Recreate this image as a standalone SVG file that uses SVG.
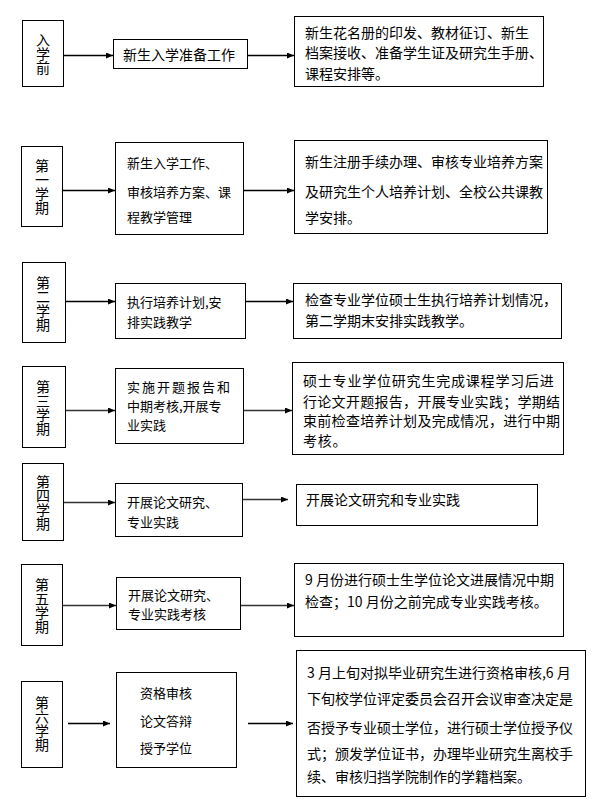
<svg xmlns="http://www.w3.org/2000/svg" width="599" height="809" viewBox="0 0 599 809">
<style>
text{font-family:"Noto Sans CJK SC","Liberation Sans",sans-serif;font-size:14px;fill:#000}
.box{fill:#fff;stroke:#000;stroke-width:1}
.v{font-size:14px;text-anchor:middle;writing-mode:vertical-rl}
.s{font-size:13px}
.c{stroke:#000;stroke-width:1.3;fill:none;marker-end:url(#ah)}
.g{stroke:#333}
</style>
<defs>
<marker id="ah" markerUnits="userSpaceOnUse" markerWidth="8" markerHeight="8" refX="7" refY="3" orient="auto">
<path d="M0,0 L7,3 L0,6 z" fill="#000"/>
</marker>
</defs>
<rect width="599" height="809" fill="#fff"/>
<g id="connectors">
<line class="c" x1="64" y1="55.5" x2="113" y2="55.5"/>
<line class="c" x1="248" y1="55.5" x2="294" y2="55.5"/>
<line class="c" x1="63" y1="190.5" x2="115" y2="190.5"/>
<line class="c" x1="243" y1="190.5" x2="294" y2="190.5"/>
<line class="c" x1="65" y1="301.5" x2="115" y2="301.5"/>
<line class="c" x1="245" y1="301.5" x2="293" y2="301.5"/>
<line class="c g" x1="65" y1="410.5" x2="115" y2="410.5"/>
<line class="c g" x1="243" y1="410.5" x2="292" y2="410.5"/>
<line class="c g" x1="63" y1="502.5" x2="115" y2="502.5"/>
<line class="c g" x1="242" y1="499.5" x2="288" y2="499.5"/>
<line class="c g" x1="62" y1="605.5" x2="116" y2="605.5"/>
<line class="c g" x1="240" y1="605.5" x2="294" y2="605.5"/>
<line class="c" x1="68" y1="723.5" x2="110" y2="723.5"/>
<line class="c" x1="248" y1="723.5" x2="293" y2="723.5"/>
</g>
<g id="r1-label"><rect class="box" x="22.5" y="20.5" width="41" height="66"/>
<text class="v" x="43" y="54">入学前</text></g>
<g id="r1-task"><rect class="box" x="113.5" y="39.5" width="134" height="29"/>
<text x="123" y="60">新生入学准备工作</text></g>
<g id="r1-detail"><rect class="box" x="294.5" y="16.5" width="249" height="70"/>
<text x="305" y="38">新生花名册的印发、教材征订、新生</text>
<text x="305" y="58">档案接收、准备学生证及研究生手册、</text>
<text x="305" y="79">课程安排等。</text></g>

<g id="r2-label"><rect class="box" x="21.5" y="146.5" width="41" height="80"/>
<text class="v" x="42" y="187">第一学期</text></g>
<g id="r2-task"><rect class="box" x="115.5" y="142.5" width="128" height="92"/>
<text class="s" x="127" y="168">新生入学工作、</text>
<text class="s" x="127" y="197">审核培养方案、课</text>
<text class="s" x="127" y="222">程教学管理</text></g>
<g id="r2-detail"><rect class="box" x="294.5" y="140.5" width="253" height="93"/>
<text x="305" y="167">新生注册手续办理、审核专业培养方案</text>
<text x="305" y="197">及研究生个人培养计划、全校公共课教</text>
<text x="305" y="223">学安排。</text></g>

<g id="r3-label"><rect class="box" x="22.5" y="262.5" width="43" height="80"/>
<text class="v" x="43" y="304">第二学期</text></g>
<g id="r3-task"><rect class="box" x="115.5" y="283.5" width="130" height="55"/>
<text class="s" x="127" y="307">执行培养计划,安</text>
<text class="s" x="127" y="327">排实践教学</text></g>
<g id="r3-detail"><rect class="box" x="293.5" y="283.5" width="268" height="55"/>
<text x="305" y="305">检查专业学位硕士生执行培养计划情况，</text>
<text x="305" y="326">第二学期末安排实践教学。</text></g>

<g id="r4-label"><rect class="box" x="22.5" y="366.5" width="43" height="81"/>
<text class="v" x="43" y="408">第三学期</text></g>
<g id="r4-task"><rect class="box" x="115.5" y="368.5" width="128" height="75"/>
<text class="s" x="127" y="392" letter-spacing="2">实施开题报告和</text>
<text class="s" x="127" y="411">中期考核,开展专</text>
<text class="s" x="127" y="430">业实践</text></g>
<g id="r4-detail"><rect class="box" x="292.5" y="362.5" width="271" height="92"/>
<text x="303" y="386" letter-spacing="0.8">硕士专业学位研究生完成课程学习后进</text>
<text x="303" y="407" letter-spacing="0.3">行论文开题报告，开展专业实践；学期结</text>
<text x="303" y="426" letter-spacing="0.3">束前检查培养计划及完成情况，进行中期</text>
<text x="303" y="446" letter-spacing="0.8">考核。</text></g>

<g id="r5-label"><rect class="box" x="22.5" y="463.5" width="41" height="77"/>
<text class="v" x="43" y="503">第四学期</text></g>
<g id="r5-task"><rect class="box" x="115.5" y="483.5" width="127" height="53"/>
<text class="s" x="127" y="507">开展论文研究、</text>
<text class="s" x="127" y="527">专业实践</text></g>
<g id="r5-detail"><rect class="box" x="296.5" y="484.5" width="241" height="41"/>
<text x="306" y="505">开展论文研究和专业实践</text></g>

<g id="r6-label"><rect class="box" x="21.5" y="564.5" width="41" height="81"/>
<text class="v" x="42" y="606">第五学期</text></g>
<g id="r6-task"><rect class="box" x="116.5" y="577.5" width="124" height="52"/>
<text class="s" x="128" y="600">开展论文研究、</text>
<text class="s" x="128" y="619">专业实践考核</text></g>
<g id="r6-detail"><rect class="box" x="294.5" y="563.5" width="269" height="73"/>
<text x="305" y="585">9 月份进行硕士生学位论文进展情况中期</text>
<text x="305" y="607">检查；10 月份之前完成专业实践考核。</text></g>

<g id="r7-label"><rect class="box" x="21.5" y="681.5" width="41" height="86"/>
<text class="v" x="42" y="724">第六学期</text></g>
<g id="r7-task"><rect class="box" x="116.5" y="672.5" width="120" height="95"/>
<text class="s" x="140" y="698">资格审核</text>
<text class="s" x="140" y="726">论文答辩</text>
<text class="s" x="140" y="753">授予学位</text></g>
<g id="r7-detail"><rect class="box" x="296.5" y="650.5" width="289" height="146"/>
<text x="307" y="678">3 月上旬对拟毕业研究生进行资格审核,6 月</text>
<text x="307" y="704">下旬校学位评定委员会召开会议审查决定是</text>
<text x="307" y="733">否授予专业硕士学位，进行硕士学位授予仪</text>
<text x="307" y="759">式；颁发学位证书，办理毕业研究生离校手</text>
<text x="307" y="782">续、审核归挡学院制作的学籍档案。</text></g>
</svg>
